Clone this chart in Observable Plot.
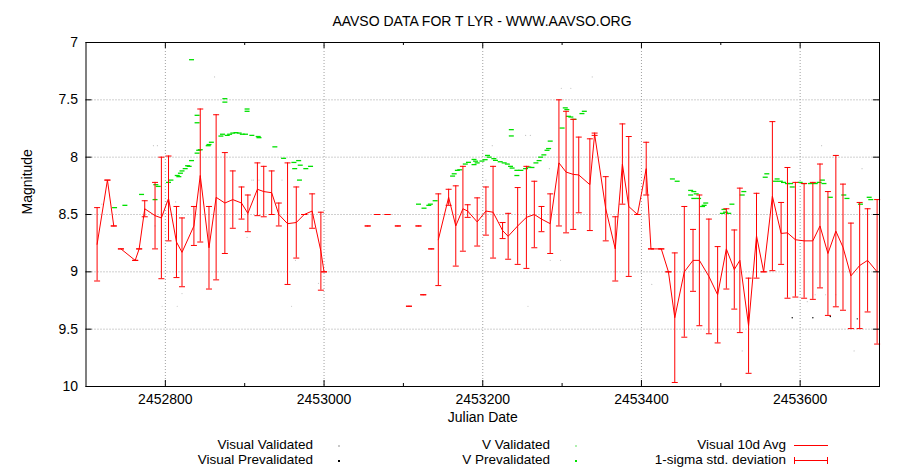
<!DOCTYPE html>
<html><head><meta charset="utf-8">
<script src="https://cdn.jsdelivr.net/npm/d3@7"></script>
<script src="https://cdn.jsdelivr.net/npm/@observablehq/plot@0.6"></script>
<style>
body{margin:0;background:#fff;font-family:"Liberation Sans",Arial,sans-serif;color:#000;}
#wrap{width:900px;height:473px;position:relative;overflow:hidden;background:#fff;}
#title{height:30px;box-sizing:border-box;padding-top:14px;line-height:15px;font-size:14px;text-align:center;padding-left:64px;}
#chart svg{display:block;}
#legend{position:relative;height:43px;font-size:13.5px;}
.lt{position:absolute;white-space:nowrap;line-height:13px;height:13px;text-align:right;}
.sw{position:absolute;}
</style></head><body>
<div id="wrap">
<div id="title">AAVSO DATA FOR T LYR - WWW.AAVSO.ORG</div>
<div id="chart"></div>
<div id="legend"></div>
</div>
<script>
// ---- Visual 10-day averages (null = gap in the line) ----
const jd = [2452714, 2452727, 2452735, null,
  2452744, 2452762, 2452767, 2452774, 2452787, 2452795, 2452804, 2452814, 2452821, 2452836,
  2452844, 2452855, 2452864, 2452875, 2452885, 2452896, 2452904, 2452916, 2452924, 2452934,
  2452943, 2452954, 2452965, 2452975, 2452985, 2452996, 2453000, null,
  2453055, null, 2453067, null, 2453080, null, 2453093, null, 2453107, null, 2453119, null, 2453125, null, 2453135, null,
  2453144, 2453157, 2453166, 2453175, 2453181, 2453193, 2453204, 2453213, 2453225, 2453232,
  2453244, 2453255, 2453265, 2453274, 2453285, 2453296, 2453305, 2453314, 2453321, 2453335,
  2453341, 2453355, 2453367, 2453376, 2453384, 2453395, 2453406, 2453412, 2453425, 2453434,
  2453442, 2453454, 2453465, 2453473, 2453485, 2453496, 2453507, 2453517, 2453524, 2453535,
  2453545, 2453554, 2453565, 2453576, 2453584, 2453594, 2453605, 2453616, 2453625, 2453635,
  2453645, 2453654, 2453664, 2453675, 2453685, 2453697];
const avg = [8.76, 8.20, 8.60, null,
  8.80, 8.90, 8.80, 8.45, 8.51, 8.53, 8.36, 8.74, 8.83, 8.60,
  8.16, 8.79, 8.35, 8.40, 8.37, 8.40, 8.49, 8.28, 8.30, 8.31,
  8.50, 8.58, 8.57, 8.50, 8.47, 8.82, 9.00, null,
  8.6, null, 8.5, null, 8.5, null, 8.6, null, 9.3, null, 8.6, null, 9.2, null, 8.8, null,
  8.72, 8.35, 8.60, 8.45, 8.47, 8.565, 8.47, 8.48, 8.64, 8.69,
  8.60, 8.525, 8.50, 8.54, 8.58, 8.05, 8.13, 8.15, 8.155, 8.24,
  7.80, 8.45, 8.80, 8.06, 8.43, 8.50, 8.10, 8.80, 8.80, 9.00,
  9.40, 9.00, 8.90, 8.90, 9.04, 9.20, 8.80, 8.98, 8.90, 9.47,
  8.685, 9.00, 8.34, 8.665, 8.66, 8.72, 8.73, 8.73, 8.60, 8.84,
  8.645, 8.785, 9.035, 8.945, 8.90, 9.00];
const sd = [0.32, 0, 0, null,
  0, 0, 0, 0.07, 0.29, 0.53, 0.37, 0.31, 0.30, 0.17,
  0.58, 0.36, 0.72, 0.44, 0.25, 0.14, 0.16, 0.23, 0.22, 0.19,
  0.10, 0.53, 0.31, 0, 0.15, 0.34, 0, null,
  0, null, 0, null, 0, null, 0, null, 0, null, 0, null, 0, null, 0, null,
  0.40, 0.07, 0.35, 0.37, 0.055, 0.21, 0.21, 0.40, 0.07, 0.20,
  0.335, 0.445, 0.29, 0.11, 0.26, 0.55, 0.53, 0.48, 0.33, 0.40,
  0.01, 0.28, 0.28, 0.35, 0.61, 0, 0.23, 0, 0, 0,
  0.565, 0.57, 0.27, 0.57, 0.50, 0.42, 0.35, 0.345, 0.63, 0.415,
  0.37, 0, 0.65, 0.27, 0.57, 0.50, 0.50, 0.51, 0.54, 0.54,
  0.66, 0.55, 0.46, 0.55, 0.45, 0.63];

// ---- V Prevalidated observations ----
const vJd = [2452833, 2452875, 2452875, 2452903, 2452903, 2452840, 2452840, 2452870, 2452872, 2452878,
  2452881, 2452885, 2452889, 2452893, 2452897, 2452901, 2452909, 2452917, 2452918, 2452938,
  2452949, 2452962, 2452968, 2452963, 2452970, 2452977, 2452983, 2452969, 2452858, 2452855,
  2452854, 2452842, 2452844, 2452840, 2452833, 2452828, 2452830, 2452825, 2452821, 2452819,
  2452815, 2452817, 2452807, 2452804, 2452788, 2452791, 2452770, 2452787, 2452736, 2452749,
  2453119, 2453126, 2453132, 2453134, 2453140, 2453162, 2453164, 2453168, 2453171, 2453178,
  2453182, 2453189, 2453191, 2453189, 2453193, 2453199, 2453203, 2453206, 2453208, 2453214,
  2453216, 2453222, 2453227, 2453231, 2453235, 2453237, 2453243, 2453248, 2453243, 2453254,
  2453258, 2453262, 2453267, 2453271, 2453273, 2453277, 2453281, 2453283, 2453285, 2453300,
  2453308, 2453304, 2453306, 2453311, 2453315, 2453325, 2453328, 2453236, 2453236,
  2453439, 2453445, 2453462, 2453466, 2453462, 2453469, 2453466, 2453472, 2453481, 2453479,
  2453477, 2453504, 2453506, 2453510, 2453502, 2453514, 2453527, 2453529, 2453558, 2453556,
  2453571, 2453569, 2453575, 2453579, 2453584, 2453590, 2453588, 2453600, 2453605, 2453613,
  2453619, 2453624, 2453630, 2453628, 2453638, 2453655, 2453659, 2453676, 2453687, 2453689];
const vMag = [7.15, 7.49, 7.52, 7.58, 7.60, 7.635, 7.70, 7.816, 7.80, 7.81,
  7.80, 7.79, 7.786, 7.79, 7.80, 7.80, 7.81, 7.82, 7.83, 7.91,
  8.01, 8.046, 8.03, 8.10, 8.07, 8.10, 8.08, 8.20, 7.87, 7.89,
  7.90, 7.94, 7.935, 7.965, 8.03, 8.075, 8.08, 8.10, 8.12, 8.14,
  8.16, 8.17, 8.20, 8.22, 8.24, 8.255, 8.325, 8.37, 8.44, 8.42,
  8.41, 8.445, 8.42, 8.41, 8.38, 8.165, 8.145, 8.115, 8.11, 8.06,
  8.045, 8.065, 8.035, 8.02, 8.05, 8.034, 8.022, 7.985, 8.0, 8.013,
  8.028, 8.04, 8.05, 8.06, 8.08, 8.095, 8.115, 8.115, 8.16, 8.10,
  8.087, 8.09, 8.05, 8.03, 8.0, 7.98, 7.94, 7.925, 7.86, 7.746,
  7.644, 7.57, 7.585, 7.65, 7.67, 7.62, 7.60, 7.76, 7.815,
  8.19, 8.21, 8.29, 8.30, 8.33, 8.32, 8.36, 8.36, 8.40, 8.42,
  8.43, 8.456, 8.48, 8.49, 8.49, 8.41, 8.33, 8.30, 8.145, 8.175,
  8.19, 8.21, 8.21, 8.22, 8.23, 8.26, 8.23, 8.22, 8.23, 8.23,
  8.23, 8.22, 8.23, 8.20, 8.35, 8.33, 8.36, 8.41, 8.35, 8.37];

// ---- Visual Validated observations (faint) ----
const visJd = [2452862, 2452785, 2452790, 2452813, 2452802, 2452909, 2452918, 2452947, 2452884, 2452888,
  2452787, 2452836, 2452964, 2452993, 2452821, 2452720, 2452796, 2452815, 2452959, 2452903,
  2452911, 2453338, 2453299, 2453311, 2453254, 2453260, 2453212, 2453627, 2453678, 2453257,
  2453527, 2453668, 2453609, 2453619, 2453632, 2453645, 2453413, 2453285, 2453298, 2453204, 2453284];
const visMag = [7.30, 7.90, 7.90, 8.39, 8.39, 8.20, 8.20, 8.20, 8.38, 8.38,
  8.60, 8.77, 8.90, 9.10, 9.19, 8.41, 9.30, 9.30, 9.30, 8.70,
  8.20, 7.30, 7.40, 7.40, 7.81, 7.81, 7.90, 7.90, 8.10, 9.30,
  9.69, 9.69, 9.26, 9.20, 9.20, 9.20, 9.11, 8.90, 8.90, 8.20, 8.10];

// ---- Visual Prevalidated observations ----
const visPreJd = [2453590, 2453616, 2453638, 2453672];
const visPreMag = [9.40, 9.40, 9.39, 9.41];

// ---- Axis ticks ----
const xMajor = [2452800, 2453000, 2453200, 2453400, 2453600];
const xMinor = [2452900, 2453100, 2453300, 2453500];
const yTicks = [7, 7.5, 8, 8.5, 9, 9.5, 10];

const rows = jd.map((d, i) => ({jd: d ?? NaN, avg: avg[i] ?? NaN, sd: sd[i] ?? NaN}));
const bars = rows.filter(r => isFinite(r.avg));
const vRows = vJd.map((d, i) => ({jd: d, mag: vMag[i]}));
const visRows = visJd.map((d, i) => ({jd: d, mag: visMag[i]}));
const visPreRows = visPreJd.map((d, i) => ({jd: d, mag: visPreMag[i]}));

const W = 900, H = 400, mL = 85.5, mR = 21, mT = 12, mB = 44;
const innerW = W - mL - mR, innerH = H - mT - mB;
const dash = {draw(ctx, size) { const r = Math.sqrt(size / Math.PI); ctx.moveTo(-r, 0); ctx.lineTo(r, 0); }};
const RED = "#ff0000";

const chart = Plot.plot({
  width: W, height: H, marginLeft: mL, marginRight: mR, marginTop: mT, marginBottom: mB,
  style: {fontFamily: "'Liberation Sans', Arial, sans-serif", fontSize: "14px", color: "#000", background: "#fff"},
  x: {domain: [2452700, 2453700], axis: null},
  y: {domain: [7, 10], reverse: true, axis: null},
  marks: [
    Plot.gridX(xMajor, {x: d => d, stroke: "#a0a0a0", strokeOpacity: 1, strokeDasharray: "1,2"}),
    Plot.gridY(yTicks.slice(1, -1), {y: d => d, stroke: "#a0a0a0", strokeOpacity: 1, strokeDasharray: "1,2"}),
    Plot.dot(visRows, {x: "jd", y: "mag", r: 0.6, fill: "#c4c4c4", stroke: null}),
    Plot.dot(vRows, {x: "jd", y: "mag", r: 2.5, symbol: dash, stroke: "#00e000", strokeWidth: 1.3, fill: "none"}),
    Plot.ruleX(bars, {x: "jd", y1: d => d.avg - d.sd, y2: d => d.avg + d.sd, stroke: RED, strokeWidth: 1}),
    Plot.dot(bars, {x: "jd", y: d => d.avg - d.sd, r: 3, symbol: dash, stroke: RED, fill: "none", strokeWidth: 1}),
    Plot.dot(bars, {x: "jd", y: d => d.avg + d.sd, r: 3, symbol: dash, stroke: RED, fill: "none", strokeWidth: 1}),
    Plot.line(rows, {x: "jd", y: "avg", stroke: RED, strokeWidth: 1}),
    Plot.dot(visPreRows, {x: "jd", y: "mag", r: 0.7, fill: "#000", stroke: null}),
    Plot.frame({stroke: "#000", strokeWidth: 1}),
    Plot.tickX(xMajor, {x: d => d, stroke: "#000", insetTop: innerH - 6}),
    Plot.tickX(xMajor, {x: d => d, stroke: "#000", insetBottom: innerH - 6}),
    Plot.tickX(xMinor, {x: d => d, stroke: "#000", insetTop: innerH - 3}),
    Plot.tickX(xMinor, {x: d => d, stroke: "#000", insetBottom: innerH - 3}),
    Plot.tickY(yTicks, {y: d => d, stroke: "#000", insetRight: innerW - 6}),
    Plot.tickY(yTicks, {y: d => d, stroke: "#000", insetLeft: innerW - 6}),
    Plot.axisX(xMajor, {tickSize: 0, tickPadding: 8, tickFormat: d => String(d), label: null, fontSize: 14}),
    Plot.axisY(yTicks, {tickSize: 0, tickPadding: 8, tickFormat: d => String(d), label: null, fontSize: 14}),
    Plot.text(["Julian Date"], {frameAnchor: "bottom", dy: 35, text: d => d, fontSize: 14}),
    Plot.text(["Magnitude"], {frameAnchor: "left", dx: -58, rotate: -90, text: d => d, fontSize: 14})
  ]
});
document.getElementById("chart").appendChild(chart);

// ---- Legend ----
const legendItems = [
  {label: "Visual Validated", right: 313, row: 0, kind: "dot", color: "#c8c8c8", sx: 338},
  {label: "Visual Prevalidated", right: 313, row: 1, kind: "dot", color: "#000", sx: 338},
  {label: "V Validated", right: 550, row: 0, kind: "dot", color: "#b0f0b0", sx: 575},
  {label: "V Prevalidated", right: 550, row: 1, kind: "dot", color: "#00e000", sx: 575},
  {label: "Visual 10d Avg", right: 786, row: 0, kind: "line", color: RED, sx: 794},
  {label: "1-sigma std. deviation", right: 786, row: 1, kind: "err", color: RED, sx: 794}
];
const leg = document.getElementById("legend");
const rowY = [14.5, 29.5];
for (const it of legendItems) {
  const t = document.createElement("div");
  t.className = "lt";
  t.textContent = it.label;
  t.style.right = (900 - it.right) + "px";
  t.style.top = (rowY[it.row] - 6.5) + "px";
  leg.appendChild(t);
  const y = Math.round(rowY[it.row]);
  if (it.kind === "dot") {
    const s = document.createElement("div");
    s.className = "sw";
    Object.assign(s.style, {left: it.sx + "px", top: y + "px", width: "1.5px", height: "1.5px", background: it.color});
    leg.appendChild(s);
  } else {
    const s = document.createElement("div");
    s.className = "sw";
    Object.assign(s.style, {left: it.sx + "px", top: y + "px", width: "34px", height: "1px", background: it.color});
    leg.appendChild(s);
    if (it.kind === "err") {
      for (const dx of [0, 33]) {
        const c = document.createElement("div");
        c.className = "sw";
        Object.assign(c.style, {left: (it.sx + dx) + "px", top: (y - 3) + "px", width: "1px", height: "7px", background: it.color});
        leg.appendChild(c);
      }
    }
  }
}
</script>
</body></html>
